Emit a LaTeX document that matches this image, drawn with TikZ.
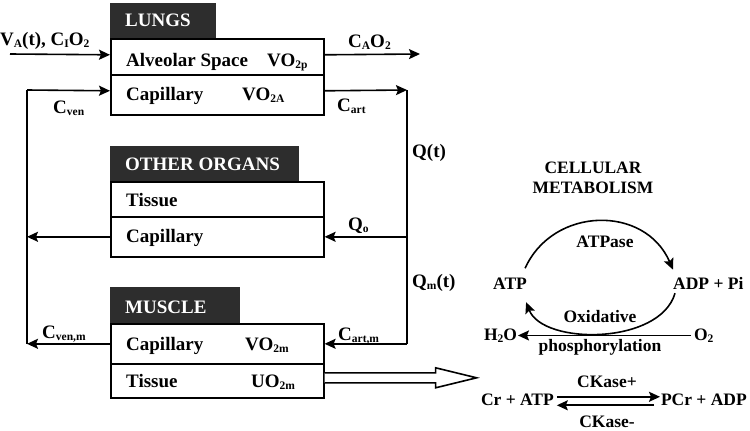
\documentclass[tikz,border=0pt]{standalone}
\usepackage{fontspec}
\setmainfont{Liberation Serif}
\usetikzlibrary{arrows.meta}
\definecolor{hdrgray}{RGB}{45,45,45}
\newcommand\lo[1]{\raisebox{-2.5pt}{\fontsize{11.5}{12}\selectfont #1}}
\begin{document}
\begin{tikzpicture}[x=1pt,y=-1pt,
 every node/.style={font=\fontsize{19}{22}\selectfont\bfseries, inner sep=0pt},
 cell/.style={draw, line width=1.6pt, anchor=north west, minimum width=213pt, fill=white},
 hdr/.style={fill=hdrgray, anchor=north west, minimum height=35pt},
 hdrtxt/.style={anchor=base west, text=white},
 txt/.style={anchor=base west},
 rtxt/.style={font=\fontsize{17.5}{20}\selectfont\bfseries},
 arr/.style={line width=1.6pt, -{Stealth[length=11pt,width=10pt,inset=2pt]}},
 ln/.style={line width=1.6pt}]
\useasboundingbox (0,0) rectangle (750,431);

% ---------- LUNGS ----------
\node[hdr, minimum width=106pt] (lungH) at (110,3) {};
\node[hdrtxt] (lungT) at (125,27) {LUNGS};
\node[cell, minimum height=36pt] (lungA) at (110,38) {};
\node[cell, minimum height=40pt] (lungB) at (110,74) {};
\node[txt] (la1) at (126,66) {Alveolar Space};
\node[txt] (la2) at (267,66) {VO\lo{2p}};
\node[txt] (lb1) at (126,100) {Capillary};
\node[txt] (lb2) at (242,100) {VO\lo{2A}};

% ---------- OTHER ORGANS ----------
\node[hdr, minimum width=189pt] (othH) at (110,146) {};
\node[hdrtxt] (othT) at (125,170) {OTHER ORGANS};
\node[cell, minimum height=35pt] (othA) at (110,181) {};
\node[cell, minimum height=40pt] (othB) at (110,216) {};
\node[txt] (oa1) at (126,206) {Tissue};
\node[txt] (ob1) at (126,242) {Capillary};

% ---------- MUSCLE ----------
\node[hdr, minimum width=130pt, minimum height=36pt] (musH) at (110,287) {};
\node[hdrtxt] (musT) at (125,313) {MUSCLE};
\node[cell, minimum height=40pt] (musA) at (110,323) {};
\node[cell, minimum height=34pt] (musB) at (110,363) {};
\node[txt] (ma1) at (126,350) {Capillary};
\node[txt] (ma2) at (245,350) {VO\lo{2m}};
\node[txt] (mb1) at (126,387) {Tissue};
\node[txt] (mb2) at (251,387) {UO\lo{2m}};

% ---------- circulation ----------
\coordinate (inA) at (10,56);
\coordinate (outA) at (420,56);
\coordinate (cR1) at (407,90);
\coordinate (cL1) at (27,90);
\coordinate (cR2) at (cR1 |- musA.east);
\coordinate (cL2) at (cL1 |- musA.west);

\draw[arr] ([yshift=2pt]inA) -- ([yshift=2pt]lungA.west);
\draw[arr] ([yshift=2pt]lungA.east) -- ([yshift=2pt]outA);
\draw[arr] ([yshift=4pt]lungB.east) -- (cR1);
\draw[ln] (cR1) -- (cR2);
\draw[arr] (cR1 |- othB.east) -- (othB.east);
\draw[arr] (cR2) -- (musA.east);
\draw[ln] (cL1) -- (cL2);
\draw[arr] (cL1) -- ([yshift=4pt]lungB.west);
\draw[arr] (othB.west) -- (cL1 |- othB.west);
\draw[arr] (musA.west) -- (cL2);

% hollow arrow
\coordinate (hs) at ([yshift=3pt]musB.east);
\draw[ln, line join=miter, fill=white] ([yshift=5pt]hs) -- ++(111,0) -- ++(0,-5) -- ++(41,10) -- ++(-41,10) -- ++(0,-5) -- ++(-111,0);

% labels
\node[txt] (lin) at (0,45) {V\lo{A}(t), C\lo{I}O\lo{2}};
\node[txt] (lout) at (348,47) {C\lo{A}O\lo{2}};
\node[txt] (lven) at (53,113) {C\lo{ven}};
\node[txt] (lart) at (337,111) {C\lo{art}};
\node[txt] (lQ) at (412,157) {Q(t)};
\node[txt] (lQo) at (348,230) {Q\lo{o}};
\node[txt] (lQm) at (412,287) {Q\lo{m}(t)};
\node[txt] (lartm) at (338,340) {C\lo{art,m}};
\node[txt] (lvenm) at (42,338) {C\lo{ven,m}};

% ---------- cellular metabolism ----------
\node[font=\fontsize{17.4}{20}\selectfont\bfseries, anchor=base] (cm1) at (593,173) {CELLULAR};
\node[font=\fontsize{17.4}{20}\selectfont\bfseries, anchor=base] (cm2) at (593,193) {METABOLISM};

\node[rtxt, anchor=base west] (atp) at (493,289) {ATP};
\node[rtxt, anchor=base west] (adp) at (673,289) {ADP + Pi};
\node[rtxt, anchor=base] (atpase) at (605,247) {ATPase};
\node[rtxt, anchor=base] (oxi) at (600,322) {Oxidative};
\node[rtxt, anchor=base] (phos) at (600,351) {phosphorylation};
\node[rtxt, anchor=base west, outer sep=1pt] (h2o) at (483,340) {H\lo{2}O};
\node[rtxt, anchor=base west, outer sep=3pt] (o2) at (691,340) {O\lo{2}};

\draw[arr] ([shift={(-2pt,9pt)}]atp.north east) .. controls +(28,-62) and +(-28,-65) .. ([shift={(0pt,7pt)}]adp.north west);
\draw[arr] ([shift={(2pt,-4pt)}]adp.south west) .. controls +(-15,52) and +(17,43) .. ([shift={(-1pt,-13pt)}]atp.south east);
\draw[arr] (o2.west) -- (h2o.east);

\node[rtxt, anchor=base] (ckp) at (607,387) {CKase+};
\node[rtxt, anchor=base] (ckm) at (607,427) {CKase-};
\node[rtxt, anchor=base west, outer sep=3pt] (cratp) at (478,405) {Cr + ATP};
\node[rtxt, anchor=base west, outer sep=1pt] (pcr) at (660,405) {PCr + ADP};
\draw[arr] ([yshift=2.5pt]cratp.east) -- ([yshift=2.5pt]pcr.west);
\draw[arr] ([shift={(-6pt,-6pt)}]pcr.west) -- ([yshift=-6pt]cratp.east);
\end{tikzpicture}
\end{document}
